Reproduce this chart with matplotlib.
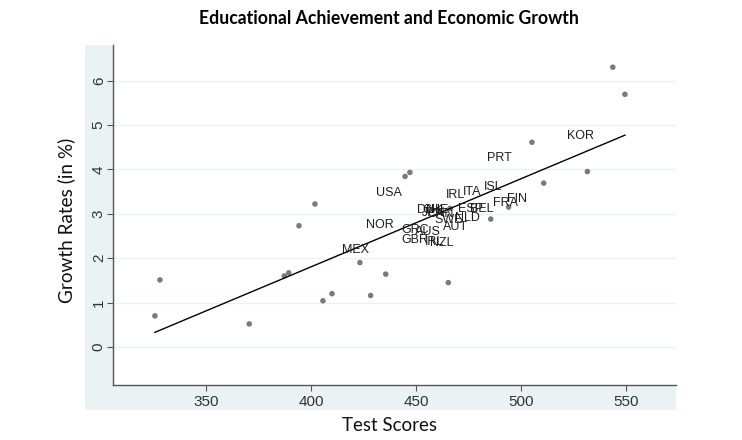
import matplotlib
matplotlib.use("Agg")
import matplotlib.pyplot as plt
from matplotlib.patches import Rectangle
import numpy as np

# ---- data ----
dot_x = [325.7, 328.1, 370.6, 387.3, 389.4, 394.3, 401.9, 405.7, 410.0, 423.3,
         428.4, 435.6, 444.8, 447.1, 465.4, 466.2, 485.6, 494.1, 505.2, 510.8,
         531.6, 543.7, 549.5]
dot_y = [0.70, 1.51, 0.52, 1.60, 1.67, 2.73, 3.22, 1.04, 1.20, 1.90,
         1.16, 1.64, 3.84, 3.93, 1.45, 3.12, 2.88, 3.15, 4.61, 3.69,
         3.95, 6.30, 5.69]

labels   = ["KOR", "PRT", "ISL", "ITA", "IRL", "USA", "FIN", "FRA", "ESP", "BEL",
            "DNK", "CHE", "JPN", "CAN", "SWE", "NLD", "AUT", "GRC", "AUS", "NOR",
            "MEX", "GBR", "IRL", "NZL"]
label_x  = [521.8, 483.7, 482.4, 472.2, 464.3, 431.0, 493.2, 486.8, 470.0, 475.7,
            450.5, 452.9, 452.9, 455.2, 458.6, 468.6, 463.0, 443.2, 449.5, 426.2,
            414.6, 443.2, 454.3, 456.7]
label_y  = [4.74, 4.25, 3.61, 3.50, 3.42, 3.46, 3.33, 3.24, 3.11, 3.11,
            3.09, 3.09, 3.02, 3.00, 2.86, 2.90, 2.70, 2.64, 2.59, 2.75,
            2.18, 2.41, 2.36, 2.35]

fit_intercept = -6.132
fit_slope = 0.01984
fit_x_range = [325.7, 549.5]

x_ticks = [350, 400, 450, 500, 550]
y_ticks = [0, 1, 2, 3, 4, 5, 6]

title = "Educational Achievement and Economic Growth"
xlabel = "Test Scores"
ylabel = "Growth Rates (in %)"

# ---- figure ----
W, H = 742, 440
fig = plt.figure(figsize=(W / 100, H / 100), dpi=100)
fig.patch.set_facecolor("white")

bg = "#eaf2f3"
# graph region (light blue), drawn behind the plot axes
fig.patches.append(Rectangle((85 / W, 1 - 410 / H), (676 - 85) / W, (410 - 45) / H,
                             transform=fig.transFigure, facecolor=bg,
                             edgecolor="none", zorder=-10))

ax = fig.add_axes([112.7 / W, 1 - 385 / H, (676 - 112.7) / W, (385 - 45) / H])
ax.set_zorder(1)
ax.set_facecolor("white")
ax.set_xlim(305.6, 573.8)
ax.set_ylim(-0.856, 6.80)

for s in ["top", "right"]:
    ax.spines[s].set_visible(False)
for s in ["left", "bottom"]:
    ax.spines[s].set_color("#555555")
    ax.spines[s].set_linewidth(1.0)

ax.set_xticks(x_ticks)
ax.set_yticks(y_ticks)
ax.tick_params(axis="both", direction="out", length=4, width=0.8, color="#555555",
               labelcolor="#333333", labelsize=11)
ax.tick_params(axis="x", pad=3)
ax.tick_params(axis="y", pad=1)
for lab in ax.get_xticklabels() + ax.get_yticklabels():
    lab.set_fontfamily("Liberation Sans")
for lab in ax.get_yticklabels():
    lab.set_rotation(90)
    lab.set_va("center")

ax.grid(axis="y", color=bg, linewidth=1.0)
ax.set_axisbelow(True)

ax.scatter(dot_x, dot_y, s=16, color="#7a7a7a", edgecolors="none", zorder=3)

fx = np.array(fit_x_range)
ax.plot(fx, fit_intercept + fit_slope * fx, color="black", linewidth=1.0, zorder=4)

for t, x, y in zip(labels, label_x, label_y):
    ax.text(x, y, t, ha="left", va="center", fontsize=9, color="#1e1e1e",
            family="Liberation Sans", zorder=5)

fig.text(389 / W, 1 - 18 / H, title, ha="center", va="center", fontsize=12.7,
         fontweight="bold", family="Lato", color="black")
fig.text(390 / W, 1 - 425 / H, xlabel, ha="center", va="center", fontsize=13.5,
         family="Lato", color="#111111")
fig.text(66 / W, 1 - 220 / H, ylabel, ha="center", va="center", fontsize=13.6,
         family="Lato", color="#111111", rotation=90)

fig.savefig("out.png", dpi=100)
